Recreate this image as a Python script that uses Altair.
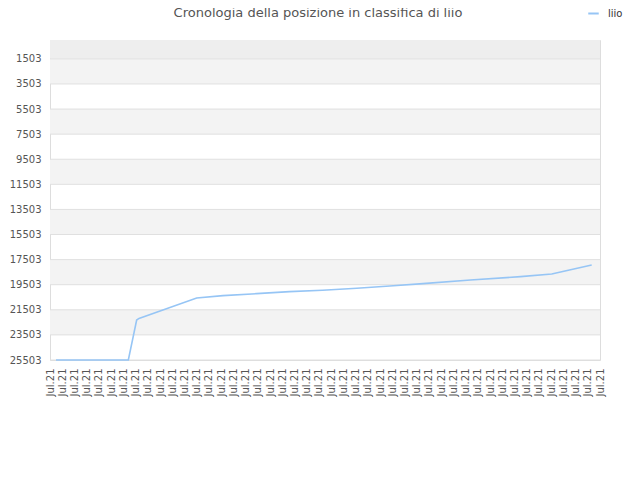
import altair as alt
import pandas as pd

title_text = "Cronologia della posizione in classifica di liio"
series_name = "liio"

# x position of each data point, in units of x-axis label steps
days = [0.49, 6.41, 7.09, 7.28, 12.0, 14.15, 16.9, 19.6, 22.3, 25.1, 27.8,
        30.5, 34.4, 38.5, 41.05, 42.5, 44.32]
ranks = [25503, 25503, 22313, 22190, 20558, 20375, 20216, 20056, 19945, 19785,
         19602, 19418, 19124, 18860, 18645, 18327, 17927]

x_labels = ["Jul.21"] * 46
y_ticks = [1503, 3503, 5503, 7503, 9503, 11503, 13503, 15503, 17503, 19503,
           21503, 23503, 25503]
y_top = 1

line_color = "#96c5f5"

df = pd.DataFrame({"day": days, "rank": ranks, "series": series_name})

band_lo = [y_top] + [y_ticks[i] for i in range(0, len(y_ticks) - 1, 2)]
band_hi = [y_ticks[0]] + [y_ticks[i + 1] for i in range(0, len(y_ticks) - 1, 2)]
band_col = ["#eeeeee"] + ["#f3f3f3"] * (len(band_lo) - 1)
bands = pd.DataFrame({"lo": band_lo, "hi": band_hi, "c": band_col})
grid = pd.DataFrame({"t": y_ticks})

xscale = alt.Scale(domain=[0, len(x_labels) - 1], nice=False, zero=False)
yscale = alt.Scale(domain=[y_top, y_ticks[-1]], reverse=True, nice=False, zero=False)

label_list = "[" + ",".join("'" + s + "'" for s in x_labels) + "]"

yaxis = alt.Axis(values=y_ticks, format="d", title=None, grid=False, ticks=False,
                 domain=False, labelFont="DejaVu Sans", labelFontSize=10,
                 labelColor="#555555", labelPadding=9)
xaxis = alt.Axis(values=list(range(len(x_labels))), labelExpr=label_list + "[datum.value]",
                 title=None, grid=False, ticks=False, domain=False, labelAngle=270,
                 labelAlign="right", labelBaseline="middle", labelFont="DejaVu Sans",
                 labelFontSize=10, labelColor="#555555", labelPadding=8,
                 labelOverlap=False, labelFlush=False)

band_layer = alt.Chart(bands).mark_rect().encode(
    y=alt.Y("lo:Q", scale=yscale, axis=yaxis),
    y2="hi:Q",
    fill=alt.Fill("c:N", scale=None, legend=None),
)

grid_layer = alt.Chart(grid).mark_rule(color="#e0e0e0", strokeWidth=1).encode(
    y=alt.Y("t:Q", scale=yscale, axis=yaxis),
)

line_layer = alt.Chart(df).mark_line(strokeWidth=1.6).encode(
    x=alt.X("day:Q", scale=xscale, axis=xaxis),
    y=alt.Y("rank:Q", scale=yscale, axis=yaxis),
    color=alt.Color("series:N", scale=alt.Scale(range=[line_color]),
                    legend=alt.Legend(title=None, orient="none", legendX=537, legendY=-33,
                                      symbolType="stroke", symbolSize=110,
                                      symbolStrokeWidth=2, labelFont="DejaVu Sans",
                                      labelFontSize=10, labelColor="#333333",
                                      labelOffset=8, padding=0)),
)

chart = alt.layer(band_layer, grid_layer, line_layer).properties(
    width=550,
    height=320,
    autosize=alt.AutoSizeParams(type="none"),
    padding={"left": 42, "top": 32, "right": 32, "bottom": 112},
    title=alt.TitleParams(title_text, font="DejaVu Sans", fontSize=13,
                          fontWeight="normal", color="#555555", anchor="middle",
                          dx=-7, dy=33, offset=20),
).configure_view(stroke="#dddddd", strokeWidth=1).configure(background="white")

chart.save("out.html", embed_options={"renderer": "svg", "actions": False})
